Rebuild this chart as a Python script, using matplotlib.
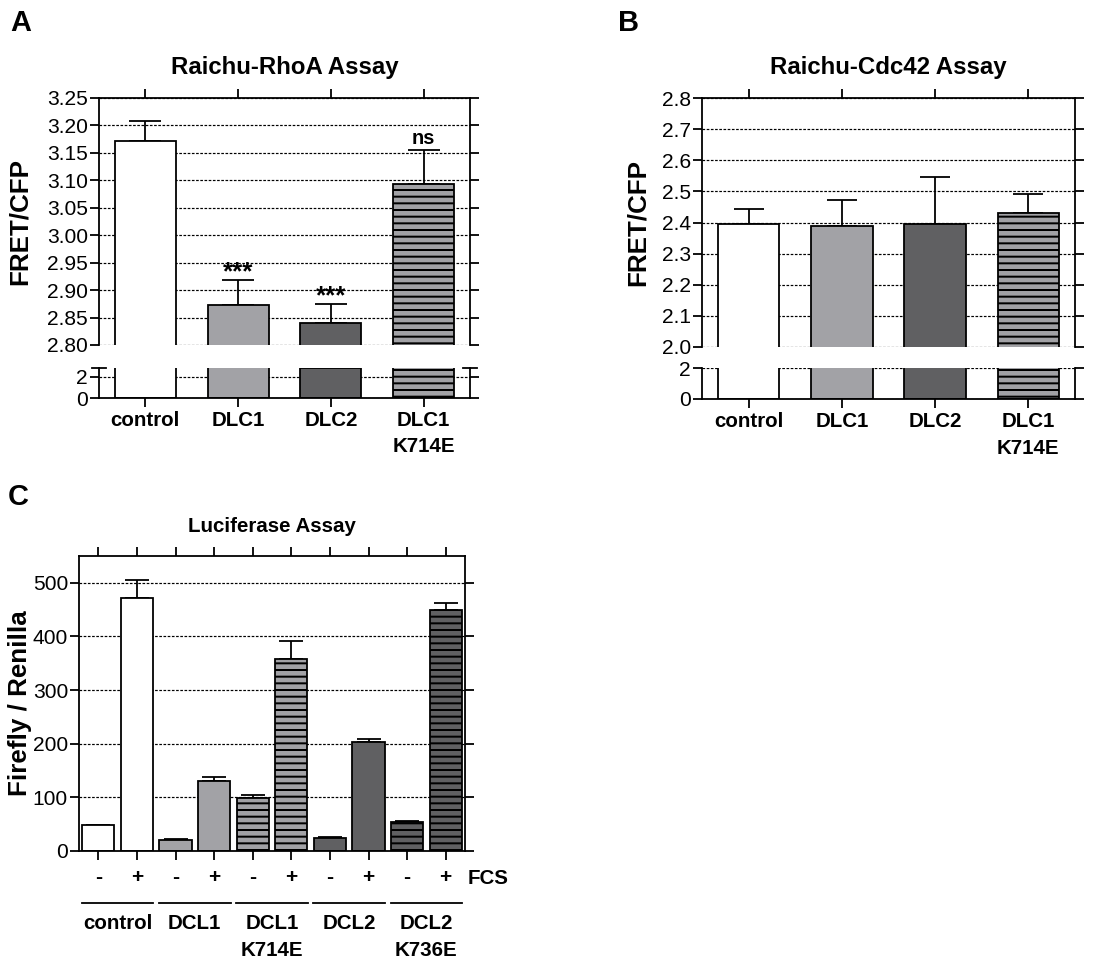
import matplotlib
matplotlib.use("Agg")
import matplotlib.pyplot as plt
import matplotlib.transforms as mtransforms
import numpy as np

plt.rcParams['font.family'] = ['Liberation Sans', 'DejaVu Sans']
plt.rcParams['hatch.linewidth'] = 1.8
plt.rcParams['hatch.color'] = 'black'

DPI = 80
PT = 72 / DPI   # points per pixel, so sizes below can be given in px

W, H = 1114, 976

# ---- data ----
# A: Raichu-RhoA
rho_labels = ["control", "DLC1", "DLC2", "DLC1\nK714E"]
rho_mean = [3.172, 2.873, 2.840, 3.093]
rho_sem = [0.037, 0.045, 0.035, 0.062]
rho_sig = ["", "***", "***", "ns"]
rho_yticks = [2.80, 2.85, 2.90, 2.95, 3.00, 3.05, 3.10, 3.15, 3.20, 3.25]

# B: Raichu-Cdc42
cdc_labels = ["control", "DLC1", "DLC2", "DLC1\nK714E"]
cdc_mean = [2.394, 2.390, 2.394, 2.429]
cdc_sem = [0.050, 0.081, 0.152, 0.061]
cdc_yticks = [2.0, 2.1, 2.2, 2.3, 2.4, 2.5, 2.6, 2.7, 2.8]

# C: luciferase
luc_fcs = ["-", "+", "-", "+", "-", "+", "-", "+", "-", "+"]
luc_groups = ["control", "DCL1", "DCL1\nK714E", "DCL2", "DCL2\nK736E"]
luc_mean = [48, 472, 21, 130, 98, 358, 25, 203, 54, 449]
luc_sem = [1, 34, 0.5, 8, 7, 34, 1.5, 6, 2.5, 13]
luc_yticks = [0, 100, 200, 300, 400, 500]

LIGHT = '#a2a2a6'
DARK = '#606062'
style_4 = [('white', ''), (LIGHT, ''), (DARK, ''), (LIGHT, '--')]
style_10 = [('white', ''), ('white', ''), (LIGHT, ''), (LIGHT, ''),
            (LIGHT, '--'), (LIGHT, '--'), (DARK, ''), (DARK, ''),
            (DARK, '--'), (DARK, '--')]

LW = 1.8 * PT
TICK = 9 * PT
FS_TICK = 21 * PT
FS_CAT = 20.5 * PT
FS_YLAB = 26 * PT
FS_LETTER = 29 * PT
GRID = dict(color='black', linestyle=(0, (2.2, 1.3)), linewidth=1.2 * PT)


def rect(x0, y0, x1, y1):
    # pixel box -> figure fraction
    return [x0 / W, 1 - y1 / H, (x1 - x0) / W, (y1 - y0) / H]


def bars(ax, x, means, styles, width):
    for xi, m, (fc, hatch) in zip(x, means, styles):
        ax.bar(xi, m, width=width, color=fc, edgecolor='black', hatch=hatch,
               linewidth=LW, zorder=2)


def style_axis(ax):
    for s in ax.spines.values():
        s.set_linewidth(LW)
    ax.tick_params(direction='out', length=TICK, width=LW, labelsize=FS_TICK, pad=2 * PT)
    ax.set_axisbelow(True)
    ax.yaxis.grid(True, **GRID)


def broken_panel(top_box, bot_box, labels, means, sems, yticks, fmt, lo_max, title, cap):
    x = np.arange(len(means))
    ax = fig.add_axes(rect(*top_box))
    axb = fig.add_axes(rect(*bot_box))
    for a in (ax, axb):
        style_axis(a)
        bars(a, x, means, style_4, 0.66)
        a.set_xlim(-0.5, 3.5)
        a.set_xticks(x)

    ax.errorbar(x, means, yerr=[np.zeros(len(x)), sems], fmt='none', ecolor='black',
                elinewidth=LW, capsize=cap * PT, capthick=LW, zorder=1.9)
    ax.set_ylim(yticks[0], yticks[-1])
    ax.set_yticks(yticks)
    ax.set_yticklabels([fmt % v for v in yticks])
    ax.spines['bottom'].set_visible(False)
    ax.tick_params(axis='x', top=True, bottom=False, labelbottom=False)
    ax.tick_params(axis='y', right=True)
    ax.set_title(title, fontsize=24 * PT, fontweight='bold', y=1.0, pad=24 * PT)

    axb.set_ylim(0, lo_max)
    axb.set_yticks([0, 2])
    axb.spines['top'].set_visible(False)
    axb.tick_params(axis='y', right=True)
    axb.tick_params(axis='x', pad=4 * PT)
    axb.set_xticklabels(labels, fontsize=FS_CAT, fontweight='bold', linespacing=1.5)
    return ax, axb


fig = plt.figure(figsize=(W / DPI, H / DPI), dpi=DPI)

# ---- panel A ----
axA, axA2 = broken_panel((99, 98, 470, 345), (99, 368, 470, 398), rho_labels,
                         rho_mean, rho_sem, rho_yticks, '%.2f', 2.8,
                         'Raichu-RhoA Assay', 16)
for xi, m, e, s in zip(range(4), rho_mean, rho_sem, rho_sig):
    if s == '***':
        axA.annotate(s, (xi, m + e), xytext=(0, 1 * PT), textcoords='offset points',
                     ha='center', va='baseline', fontsize=26 * PT, fontweight='bold')
    elif s:
        axA.annotate(s, (xi, m + e), xytext=(0, 6 * PT), textcoords='offset points',
                     ha='center', va='baseline', fontsize=20 * PT, fontweight='bold')
# break marks at top of lower segment
for xs in (0, 1):
    axA2.plot([xs - 0.018, xs + 0.018], [1, 1], transform=axA2.transAxes,
              color='black', lw=LW, clip_on=False)
axA.yaxis.set_label_coords(-0.213, 0.395)
axA.set_ylabel('FRET/CFP', fontsize=FS_YLAB, fontweight='bold', va='center')

# ---- panel B ----
axB, axB2 = broken_panel((702, 98, 1075, 347), (702, 368, 1075, 399), cdc_labels,
                         cdc_mean, cdc_sem, cdc_yticks, '%.1f', 2.0,
                         'Raichu-Cdc42 Assay', 15)
axB.yaxis.set_label_coords(-0.173, 0.39)
axB.set_ylabel('FRET/CFP', fontsize=FS_YLAB, fontweight='bold', va='center')

# ---- panel C ----
axC = fig.add_axes(rect(79, 556, 465, 851))
style_axis(axC)
xc = np.arange(len(luc_mean))
bars(axC, xc, luc_mean, style_10, 0.83)
axC.errorbar(xc, luc_mean, yerr=[np.zeros(len(xc)), luc_sem], fmt='none', ecolor='black',
             elinewidth=LW, capsize=12 * PT, capthick=LW, zorder=1.9)
axC.set_xlim(-0.5, 9.5)
axC.set_ylim(0, 550)
axC.set_yticks(luc_yticks)
axC.set_xticks(xc)
axC.set_xticklabels(luc_fcs, fontsize=21 * PT, fontweight='bold')
axC.tick_params(axis='x', top=True, pad=8 * PT)
axC.tick_params(axis='y', right=True)
axC.set_title('Luciferase Assay', fontsize=20.5 * PT, fontweight='bold', y=1.0, pad=24 * PT)
axC.yaxis.set_label_coords(-0.153, 0.503)
axC.set_ylabel('Firefly / Renilla', fontsize=FS_YLAB, fontweight='bold', va='center')

trans = mtransforms.blended_transform_factory(axC.transData, axC.transAxes)
axC.text(10.1, -0.0926, 'FCS', transform=trans, ha='center', va='center',
         fontsize=FS_CAT, fontweight='bold')
for gi, g in enumerate(luc_groups):
    c = 2 * gi + 0.5
    axC.plot([c - 0.93, c + 0.93], [-0.1775, -0.1775], transform=trans,
             color='black', lw=LW, clip_on=False)
    axC.text(c, -0.212, g, transform=trans, ha='center', va='top',
             fontsize=FS_CAT, fontweight='bold', linespacing=1.55)

# panel letters
for letter, (px, py) in zip('ABC', [(21, 23), (629, 23), (18, 497)]):
    fig.text(px / W, 1 - py / H, letter, ha='center', va='center',
             fontsize=FS_LETTER, fontweight='bold')

fig.savefig('out.png', dpi=DPI, facecolor='white')
